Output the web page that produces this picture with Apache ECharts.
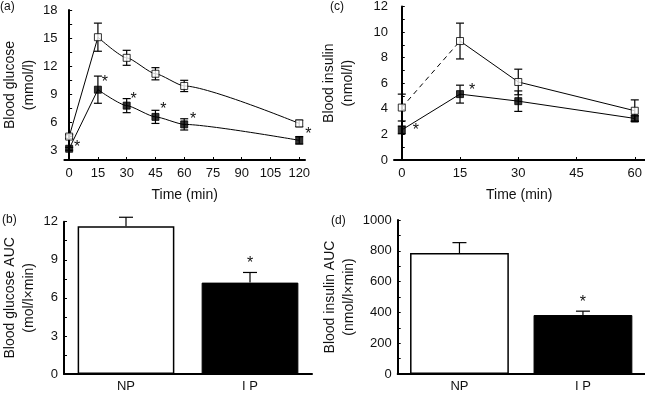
<!DOCTYPE html>
<html><head><meta charset="utf-8">
<script src="https://cdn.jsdelivr.net/npm/echarts@6/dist/echarts.min.js"></script>
<style>html,body{margin:0;padding:0;background:#fff}#c{width:645px;height:393px}</style>
</head><body><div id="c"></div>
<script>
// ---- data ----
const glucoseTimes = [0, 15, 30, 45, 60, 120];
const glucoseNP = [4.5, 15.1, 12.9, 11.2, 9.9, 5.9];
const glucoseNPErr = [0.2, 1.5, 0.8, 0.65, 0.6, 0.35];
const glucoseIP = [3.2, 9.5, 7.8, 6.6, 5.8, 4.1];
const glucoseIPErr = [0.15, 1.45, 0.75, 0.7, 0.6, 0.4];
const glucoseSig = [true, true, true, true, true, true];

const insulinTimes = [0, 15, 30, 60];
const insulinNP = [4.1, 9.3, 6.1, 3.85];
const insulinNPErr = [1.05, 1.4, 1.0, 0.85];
const insulinIP = [2.35, 5.15, 4.6, 3.25];
const insulinIPErr = [0.3, 0.7, 0.8, 0.2];
const insulinSig = [true, true, false, false];

const groups = ['NP', 'I P'];
const glucoseAUC = [11.65, 7.2];
const glucoseAUCErr = [0.7, 0.8];
const insulinAUC = [785, 383];
const insulinAUCErr = [68, 25];
const aucSig = [false, true];

const glucoseTickLabels = [3, 6, 9, 12, 15, 18];
const glucoseTickMarks = [3, 4.5, 6, 7.5, 9, 10.5, 12, 13.5, 15, 16.5, 18];
const timeTicksA = [0, 15, 30, 45, 60, 75, 90, 105, 120];
const timeTicksC = [0, 15, 30, 45, 60];

// ---- helpers ----
const FONT = 'Liberation Sans, Arial, sans-serif';
const TXT = '#111';
const pair = (xs, ys) => xs.map((x, i) => [x, ys[i]]);
const triple = (xs, ys, es) => xs.map((x, i) => [x, ys[i], es[i]]);

function errSeries(gi, data, both, hw) {
  return {
    type: 'custom', xAxisIndex: gi, yAxisIndex: gi, z: 1, silent: true,
    data: data,
    renderItem: (p, api) => {
      const x = api.value(0), y = api.value(1), e = api.value(2);
      const top = api.coord([x, y + e]);
      const mid = api.coord([x, y]);
      const bot = both ? api.coord([x, y - e]) : mid;
      const st = { stroke: '#000', lineWidth: 1.2 };
      const ch = [
        { type: 'line', shape: { x1: top[0], y1: top[1], x2: bot[0], y2: bot[1] }, style: st },
        { type: 'line', shape: { x1: top[0] - hw, y1: top[1], x2: top[0] + hw, y2: top[1] }, style: st }
      ];
      if (both) ch.push({ type: 'line', shape: { x1: bot[0] - hw, y1: bot[1], x2: bot[0] + hw, y2: bot[1] }, style: st });
      return { type: 'group', children: ch };
    }
  };
}

function starSeries(gi, data, sig, offsets) {
  return {
    type: 'custom', xAxisIndex: gi, yAxisIndex: gi, z: 5, silent: true,
    data: data.map((d, i) => d.concat([i])),
    renderItem: (p, api) => {
      const i = api.value(data[0].length);
      if (!sig[i]) return null;
      const c = api.coord([api.value(0), api.value(1)]);
      const o = offsets[i];
      return { type: 'text', style: { x: c[0] + o[0], y: c[1] + o[1], text: '*', fill: TXT,
        font: '16px ' + FONT, align: 'center', verticalAlign: 'middle' } };
    }
  };
}

const tickStyle = { color: '#000', width: 1 };
function axisBase() {
  return {
    axisLine: { show: true, lineStyle: { color: '#000', width: 2 } },
    axisTick: { show: true, inside: true, length: 3, lineStyle: tickStyle },
    axisLabel: { color: TXT, fontFamily: FONT, fontSize: 13, margin: 6 },
    splitLine: { show: false },
    nameTextStyle: { color: TXT, fontFamily: FONT, fontSize: 14, lineHeight: 19 }
  };
}
const minor = { show: true, splitNumber: 2, length: 3, lineStyle: tickStyle };

const lineNP = { color: '#000', width: 1 };
const npItem = { color: '#fff', borderColor: '#000', borderWidth: 1 };
const ipItem = { color: '#000', borderColor: '#000', borderWidth: 1 };

const option = {
  animation: false,
  backgroundColor: '#fff',
  textStyle: { fontFamily: FONT },
  grid: [
    { left: 61, top: 10, width: 244, height: 150 },
    { left: 394, top: 5, width: 251, height: 155 },
    { left: 61, top: 221.7, width: 251, height: 155 },
    { left: 397.7, top: 220, width: 247, height: 156.7 }
  ],
  xAxis: [
    Object.assign(axisBase(), { gridIndex: 0, type: 'value', min: -2.5, max: 123,
      axisLabel: { color: TXT, fontFamily: FONT, fontSize: 13, margin: 7, customValues: timeTicksA },
      axisTick: { show: true, inside: true, length: 3, lineStyle: tickStyle, customValues: timeTicksA },
      name: 'Time (min)', nameLocation: 'middle', nameGap: 26 }),
    Object.assign(axisBase(), { gridIndex: 1, type: 'value', min: -2, max: 62.5,
      axisLabel: { color: TXT, fontFamily: FONT, fontSize: 13, margin: 7, customValues: timeTicksC },
      axisTick: { show: true, inside: true, length: 3, lineStyle: tickStyle, customValues: timeTicksC },
      name: 'Time (min)', nameLocation: 'middle', nameGap: 26 }),
    Object.assign(axisBase(), { gridIndex: 2, type: 'category', data: groups,
      axisTick: { show: false } }),
    Object.assign(axisBase(), { gridIndex: 3, type: 'category', data: groups,
      axisTick: { show: false } })
  ],
  yAxis: [
    Object.assign(axisBase(), { gridIndex: 0, type: 'value', min: 2, max: 18,
      axisLabel: { color: TXT, fontFamily: FONT, fontSize: 13, margin: 7, customValues: glucoseTickLabels },
      axisTick: { show: true, inside: true, length: 3, lineStyle: tickStyle, customValues: glucoseTickMarks },
      name: 'Blood glucose\n(mmol/l)', nameLocation: 'middle', nameGap: 24 }),
    Object.assign(axisBase(), { gridIndex: 1, type: 'value', min: 0, max: 12, interval: 2,
      minorTick: minor,
      name: 'Blood insulin\n(nmol/l)', nameLocation: 'middle', nameGap: 36 }),
    Object.assign(axisBase(), { gridIndex: 2, type: 'value', min: 0, max: 12, interval: 3,
      minorTick: minor,
      name: 'Blood glucose AUC\n(mol/l×min)', nameLocation: 'middle', nameGap: 25 }),
    Object.assign(axisBase(), { gridIndex: 3, type: 'value', min: 0, max: 1000, interval: 200,
      minorTick: minor,
      axisLabel: { color: TXT, fontFamily: FONT, fontSize: 13, margin: 6, formatter: v => String(v) },
      name: 'Blood insulin AUC\n(nmol/l×min)', nameLocation: 'middle', nameGap: 36 })
  ],
  graphic: [
    { type: 'text', left: 0, top: 1, style: { text: '(a)', font: '12px ' + FONT, fill: TXT } },
    { type: 'text', left: 330, top: 1, style: { text: '(c)', font: '12px ' + FONT, fill: TXT } },
    { type: 'text', left: 2, top: 214, style: { text: '(b)', font: '12px ' + FONT, fill: TXT } },
    { type: 'text', left: 331, top: 215, style: { text: '(d)', font: '12px ' + FONT, fill: TXT } }
  ],
  series: [
    // (a) glucose
    errSeries(0, triple(glucoseTimes, glucoseNP, glucoseNPErr), true, 4),
    errSeries(0, triple(glucoseTimes, glucoseIP, glucoseIPErr), true, 4),
    { type: 'line', xAxisIndex: 0, yAxisIndex: 0, z: 3, data: pair(glucoseTimes, glucoseNP).slice(0, 2),
      symbol: 'none', lineStyle: lineNP },
    { type: 'line', xAxisIndex: 0, yAxisIndex: 0, z: 3, data: pair(glucoseTimes, glucoseNP).slice(1),
      smooth: 0.2, smoothMonotone: 'x', symbol: 'none', lineStyle: lineNP },
    { type: 'line', xAxisIndex: 0, yAxisIndex: 0, z: 3, data: pair(glucoseTimes, glucoseIP).slice(0, 2),
      symbol: 'none', lineStyle: lineNP },
    { type: 'line', xAxisIndex: 0, yAxisIndex: 0, z: 3, data: pair(glucoseTimes, glucoseIP).slice(1),
      smooth: 0.2, smoothMonotone: 'x', symbol: 'none', lineStyle: lineNP },
    { type: 'scatter', xAxisIndex: 0, yAxisIndex: 0, z: 4, data: pair(glucoseTimes, glucoseNP),
      symbol: 'rect', symbolSize: 7, itemStyle: npItem },
    { type: 'scatter', xAxisIndex: 0, yAxisIndex: 0, z: 4, data: pair(glucoseTimes, glucoseIP),
      symbol: 'rect', symbolSize: 7, itemStyle: ipItem },
    starSeries(0, pair(glucoseTimes, glucoseIP), glucoseSig,
      [[8, -1], [7, -7], [7, -6], [8, -7], [9, -5], [9, -6]]),

    // (c) insulin
    errSeries(1, triple(insulinTimes, insulinNP, insulinNPErr), true, 4),
    errSeries(1, triple(insulinTimes, insulinIP, insulinIPErr), true, 4),
    { type: 'line', xAxisIndex: 1, yAxisIndex: 1, z: 3, data: pair(insulinTimes, insulinNP).slice(0, 2),
      symbol: 'none', lineStyle: { color: '#000', width: 1, type: [5, 4] } },
    { type: 'line', xAxisIndex: 1, yAxisIndex: 1, z: 3, data: pair(insulinTimes, insulinNP).slice(1),
      symbol: 'none', lineStyle: lineNP },
    { type: 'line', xAxisIndex: 1, yAxisIndex: 1, z: 3, data: pair(insulinTimes, insulinIP),
      symbol: 'none', lineStyle: lineNP },
    { type: 'scatter', xAxisIndex: 1, yAxisIndex: 1, z: 4, data: pair(insulinTimes, insulinNP),
      symbol: 'rect', symbolSize: 7, itemStyle: npItem },
    { type: 'scatter', xAxisIndex: 1, yAxisIndex: 1, z: 4, data: pair(insulinTimes, insulinIP),
      symbol: 'rect', symbolSize: 7, itemStyle: ipItem },
    starSeries(1, pair(insulinTimes, insulinIP), insulinSig,
      [[14, 1], [12, -4], [0, 0], [0, 0]]),

    // (b) glucose AUC
    { type: 'bar', xAxisIndex: 2, yAxisIndex: 2, z: 2, barWidth: '78%',
      data: glucoseAUC.map((v, i) => ({ value: v, itemStyle: i === 0
        ? { color: '#fff', borderColor: '#000', borderWidth: 1.5 }
        : { color: '#000', borderColor: '#000', borderWidth: 1 } })) },
    errSeries(2, groups.map((g, i) => [i, glucoseAUC[i], glucoseAUCErr[i]]), false, 7),
    starSeries(2, groups.map((g, i) => [i, glucoseAUC[i] + glucoseAUCErr[i]]), aucSig,
      [[0, -9], [0, -9]]),

    // (d) insulin AUC
    { type: 'bar', xAxisIndex: 3, yAxisIndex: 3, z: 2, barWidth: '80%',
      data: insulinAUC.map((v, i) => ({ value: v, itemStyle: i === 0
        ? { color: '#fff', borderColor: '#000', borderWidth: 1.5 }
        : { color: '#000', borderColor: '#000', borderWidth: 1 } })) },
    errSeries(3, groups.map((g, i) => [i, insulinAUC[i], insulinAUCErr[i]]), false, 7),
    starSeries(3, groups.map((g, i) => [i, insulinAUC[i] + insulinAUCErr[i]]), aucSig,
      [[0, -9], [0, -9]])
  ]
};

const chart = echarts.init(document.getElementById('c'), null, { renderer: 'canvas' });
chart.setOption(option);
</script>
</body></html>
